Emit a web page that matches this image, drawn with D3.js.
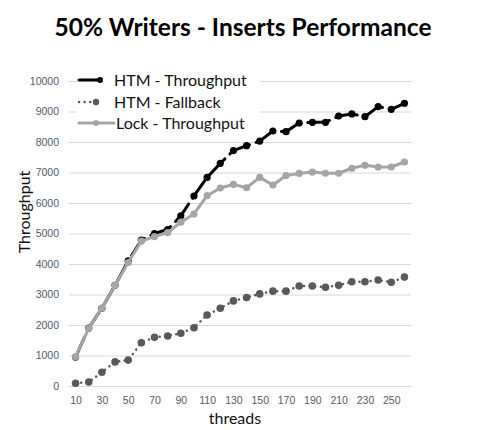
<!DOCTYPE html>
<html lang="en">
<head>
    <meta charset="UTF-8">
    <title>50% Writers - Inserts Performance</title>
    <script src="https://cdn.jsdelivr.net/npm/d3@7"></script>
    <style>
        html, body {
            margin: 0;
            background: #fff;
        }
        text {
            font-family: "Lato", "DejaVu Sans", sans-serif;
        }
    </style>
</head>
<body>
<div class="chart"></div>

<script>

    var threads = [10, 20, 30, 40, 50, 60, 70, 80, 90, 100, 110, 120, 130, 140, 150, 160, 170, 180, 190, 200, 210, 220, 230, 240, 250, 260];
    var tickLabels = [10, 30, 50, 70, 90, 110, 130, 150, 170, 190, 210, 230, 250];
    var yTicks = [0, 1000, 2000, 3000, 4000, 5000, 6000, 7000, 8000, 9000, 10000];

    var htmThroughput = [950, 1900, 2550, 3300, 4100, 4780, 5000, 5130, 5580, 6230, 6840, 7300, 7720, 7880, 8030, 8360, 8340, 8620, 8645, 8645, 8850, 8920, 8830, 9160, 9070, 9270];
    var htmFallback = [90, 130, 450, 790, 850, 1420, 1600, 1640, 1730, 1910, 2330, 2550, 2790, 2900, 3020, 3110, 3110, 3280, 3280, 3240, 3300, 3420, 3420, 3475, 3400, 3570];
    var lockThroughput = [960, 1890, 2550, 3300, 4050, 4750, 4900, 5030, 5370, 5640, 6240, 6490, 6610, 6500, 6840, 6590, 6900, 6970, 7015, 6975, 6975, 7140, 7235, 7180, 7180, 7345];

    var series = [
        {name: "HTM - Throughput", values: htmThroughput, color: "#000000", width: 3, dash: "22,7", r: 3.6},
        {name: "HTM - Fallback", values: htmFallback, color: "#595959", width: 2.5, dash: "0.1,5.5", r: 3.8},
        {name: "Lock - Throughput", values: lockThroughput, color: "#a5a5a5", width: 3, dash: null, r: 3.6}
    ];

    var width = 500, height = 430;
    var margin = {left: 69, right: 89, top: 81, bottom: 44};

    var svg = d3.select('.chart').append('svg')
        .attr('width', width)
        .attr('height', height);

    var x = d3.scalePoint()
        .domain(threads)
        .range([margin.left, width - margin.right])
        .padding(0.5);

    var y = d3.scaleLinear()
        .domain([0, 10000])
        .range([height - margin.bottom, margin.top]);

    // gridlines
    svg.append('g')
        .selectAll('line')
        .data(yTicks)
        .enter().append('line')
        .attr('x1', margin.left)
        .attr('x2', width - margin.right)
        .attr('y1', function (d) { return y(d) + 0.5; })
        .attr('y2', function (d) { return y(d) + 0.5; })
        .attr('stroke', '#d9d9d9')
        .attr('stroke-width', 1);

    // y axis labels
    var yAxis = d3.axisLeft(y).tickValues(yTicks).tickFormat(d3.format('d')).tickSize(0).tickPadding(10);
    var yg = svg.append('g')
        .attr('transform', 'translate(' + margin.left + ',0)')
        .call(yAxis);
    yg.select('.domain').remove();
    yg.selectAll('text')
        .style('font-family', '"Liberation Sans", Arial, sans-serif')
        .style('font-size', '10.5px')
        .attr('fill', '#4f5b6e');

    // x axis labels
    var xAxis = d3.axisBottom(x).tickValues(tickLabels).tickSize(0).tickPadding(11);
    var xg = svg.append('g')
        .attr('transform', 'translate(0,' + (height - margin.bottom) + ')')
        .call(xAxis);
    xg.select('.domain').remove();
    xg.selectAll('text')
        .style('font-family', '"Liberation Sans", Arial, sans-serif')
        .style('font-size', '10.5px')
        .attr('fill', '#4f5b6e');

    // lines + markers, drawn so Lock ends on top
    var line = d3.line()
        .x(function (d, i) { return x(threads[i]); })
        .y(function (d) { return y(d); });

    series.forEach(function (s) {
        var g = svg.append('g');
        g.append('path')
            .attr('d', line(s.values))
            .attr('fill', 'none')
            .attr('stroke', s.color)
            .attr('stroke-width', s.width)
            .attr('stroke-linecap', 'round')
            .attr('stroke-linejoin', 'round')
            .attr('stroke-dasharray', s.dash);
        g.selectAll('circle')
            .data(s.values)
            .enter().append('circle')
            .attr('cx', function (d, i) { return x(threads[i]); })
            .attr('cy', function (d) { return y(d); })
            .attr('r', s.r)
            .attr('fill', s.color);
    });

    // legend
    var legend = svg.append('g');
    legend.append('rect')
        .attr('x', 77)
        .attr('y', 68)
        .attr('width', 183)
        .attr('height', 65)
        .attr('fill', '#fff');

    var legendItems = legend.selectAll('g')
        .data(series)
        .enter().append('g')
        .attr('transform', function (d, i) { return 'translate(0,' + [80, 102, 123][i] + ')'; });
    legendItems.append('line')
        .attr('x1', 79)
        .attr('x2', function (d, i) { return i == 2 ? 114 : 101; })
        .attr('stroke', function (d) { return d.color; })
        .attr('stroke-width', function (d) { return d.width; })
        .attr('stroke-linecap', 'round')
        .attr('stroke-dasharray', function (d) { return d.dash == "0.1,5.5" ? d.dash : null; });
    legendItems.append('circle')
        .attr('cx', function (d, i) { return [100, 96, 96][i]; })
        .attr('r', function (d) { return d.r - 0.6; })
        .attr('fill', function (d) { return d.color; });
    legendItems.append('text')
        .attr('x', function (d, i) { return i == 2 ? 116 : 114; })
        .attr('dy', '0.36em')
        .style('font-size', '16px')
        .attr('fill', '#111')
        .text(function (d) { return d.name; });

    // title
    svg.append('text')
        .attr('x', 243)
        .attr('y', 36)
        .attr('text-anchor', 'middle')
        .style('font-size', '24.5px')
        .style('font-weight', 'bold')
        .attr('fill', '#000')
        .text('50% Writers - Inserts Performance');

    // axis titles
    svg.append('text')
        .attr('x', 235)
        .attr('y', 424)
        .attr('text-anchor', 'middle')
        .style('font-size', '16px')
        .attr('fill', '#111')
        .text('threads');

    svg.append('text')
        .attr('transform', 'translate(30,212) rotate(-90)')
        .attr('text-anchor', 'middle')
        .style('font-size', '16px')
        .attr('fill', '#111')
        .text('Throughput');

</script>
</body>
</html>
